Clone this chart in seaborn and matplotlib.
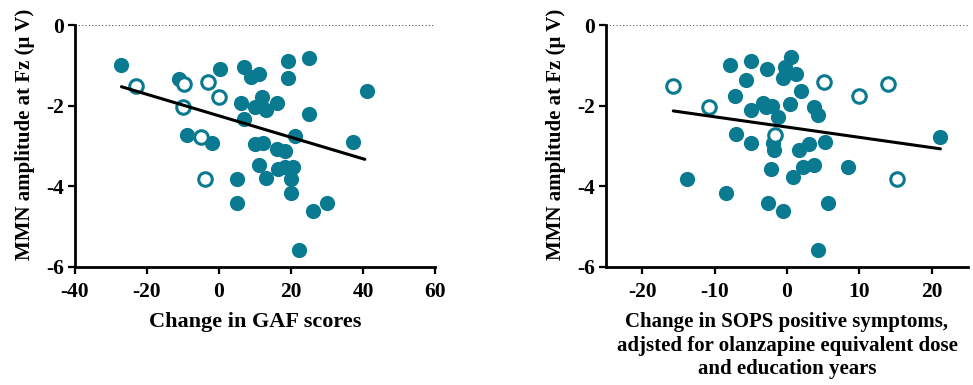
import numpy as np
import pandas as pd
import matplotlib
matplotlib.use("Agg")
import matplotlib.pyplot as plt
import seaborn as sns

# ----------------------------------------------------------
# data
# ----------------------------------------------------------

# left panel: change in GAF scores vs MMN amplitude
gaf_filled_x = [-27.1, -11.2, 0.2, 7.0, 8.9, 11.1, 19.1, 25.1, 19.1, 41.1,
                6.1, 12.0, 9.9, 13.1, 16.2, 11.7, 7.0, 25.1, -9.0, -1.9,
                21.2, 37.1, 9.9, 12.2, 16.2, 18.4, 11.1, 13.1, 16.3, 18.2,
                20.5, 20.0, 5.1, 20.0, 5.1, 26.0, 30.0, 22.1]
gaf_filled_y = [-0.99, -1.35, -1.09, -1.03, -1.28, -1.22, -0.89, -0.81, -1.32, -1.64,
                -1.93, -1.78, -2.03, -2.11, -1.93, -2.01, -2.32, -2.21, -2.72, -2.92,
                -2.76, -2.91, -2.94, -2.92, -3.08, -3.12, -3.46, -3.79, -3.58, -3.52,
                -3.52, -3.81, -3.81, -4.16, -4.41, -4.62, -4.41, -5.57]
gaf_open_x = [-23.1, -9.8, -3.0, -0.1, -10.0, -5.0, -4.0]
gaf_open_y = [-1.51, -1.45, -1.42, -1.78, -2.04, -2.77, -3.82]
gaf_fit_x = [-27.1, 40.5]
gaf_fit_y = [-1.53, -3.33]

# right panel: change in SOPS positive symptoms vs MMN amplitude
sops_filled_x = [-7.8, -5.0, -2.8, 0.6, -0.3, 1.25, -0.6, -5.7, 1.9, -7.2,
                 -4.9, -3.3, -2.0, -1.2, 0.4, 3.8, 4.35, 21.1, -7.1, -4.9,
                 -1.9, -1.75, 1.7, 3.0, 5.2, -13.8, -2.2, 0.8, 2.2, 3.8,
                 8.5, -8.4, -2.6, -0.5, 5.7, 4.3, -2.9]
sops_filled_y = [-0.99, -0.89, -1.09, -0.80, -1.03, -1.22, -1.32, -1.37, -1.63, -1.76,
                 -2.11, -1.93, -2.01, -2.28, -1.96, -2.03, -2.22, -2.77, -2.71, -2.92,
                 -2.92, -3.10, -3.09, -2.94, -2.91, -3.81, -3.58, -3.78, -3.52, -3.46,
                 -3.52, -4.16, -4.41, -4.62, -4.41, -5.57, -2.03]
sops_open_x = [-15.7, -10.8, 5.1, 10.0, 13.9, -1.7, 15.2]
sops_open_y = [-1.51, -2.04, -1.42, -1.76, -1.47, -2.73, -3.82]
sops_fit_x = [-15.7, 21.2]
sops_fit_y = [-2.13, -3.07]

y_ticks = [-6, -4, -2, 0]
gaf_ticks = [-40, -20, 0, 20, 40, 60]
sops_ticks = [-20, -10, 0, 10, 20]

y_label = "MMN amplitude at Fz (\u03bc V)"
gaf_label = "Change in GAF scores"
sops_label = ("Change in SOPS positive symptoms,\n"
              "adjsted for olanzapine equivalent dose\n"
              "and education years")

# ----------------------------------------------------------
# style
# ----------------------------------------------------------

sns.set_style("ticks")
plt.rcParams["font.family"] = ["Liberation Serif", "DejaVu Serif"]
plt.rcParams["font.weight"] = "bold"
plt.rcParams["text.color"] = "black"
plt.rcParams["axes.labelcolor"] = "black"
plt.rcParams["xtick.color"] = "black"
plt.rcParams["ytick.color"] = "black"
plt.rcParams["axes.unicode_minus"] = False

teal = "#0a7a90"

fig = plt.figure(figsize=(9.73, 3.85), dpi=100)
ax1 = fig.add_axes([0.0771, 0.3065, 0.370, 0.6285])
ax2 = fig.add_axes([0.6228, 0.3065, 0.372, 0.6285])


def draw_panel(ax, fx, fy, ox, oy, lx, ly, xlim, xticks, xlabel, xlabel_size):
    filled = pd.DataFrame({"x": fx, "y": fy})
    opened = pd.DataFrame({"x": ox, "y": oy})
    ax.axhline(0, color="#555555", linestyle=(0, (1, 2)), linewidth=0.8, zorder=1)
    sns.scatterplot(data=filled, x="x", y="y", ax=ax, s=120, color=teal,
                    edgecolor=teal, linewidth=0, clip_on=False, zorder=3)
    sns.scatterplot(data=opened, x="x", y="y", ax=ax, s=95, facecolor="white",
                    edgecolor=teal, linewidth=2.2, clip_on=False, zorder=3)
    ax.plot(lx, ly, color="black", linewidth=2.2, zorder=4)
    ax.set_xlim(xlim)
    ax.set_ylim(-6, 0)
    ax.set_xticks(xticks)
    ax.set_yticks(y_ticks)
    ax.set_xlabel(xlabel, fontsize=xlabel_size, fontweight="bold",
                  linespacing=1.25, labelpad=7)
    ax.set_ylabel(y_label, fontsize=15, fontweight="bold")
    # y label sits a bit above the centre of the axis, as in the original
    ax.yaxis.set_label_coords(-40 / (ax.bbox.width), 0.55)
    ax.tick_params(axis="both", direction="out", length=5, width=1.6,
                   labelsize=15.5, colors="black")
    ax.tick_params(axis="x", pad=6)
    ax.tick_params(axis="y", pad=3)
    for lab in ax.get_xticklabels() + ax.get_yticklabels():
        lab.set_fontweight("bold")
    for side in ["left", "bottom"]:
        ax.spines[side].set_linewidth(2)
        ax.spines[side].set_color("black")
    sns.despine(ax=ax)


draw_panel(ax1, gaf_filled_x, gaf_filled_y, gaf_open_x, gaf_open_y,
           gaf_fit_x, gaf_fit_y, (-40, 60), gaf_ticks, gaf_label, 16)
draw_panel(ax2, sops_filled_x, sops_filled_y, sops_open_x, sops_open_y,
           sops_fit_x, sops_fit_y, (-25, 25), sops_ticks, sops_label, 15)

fig.savefig("out.png", dpi=100)
